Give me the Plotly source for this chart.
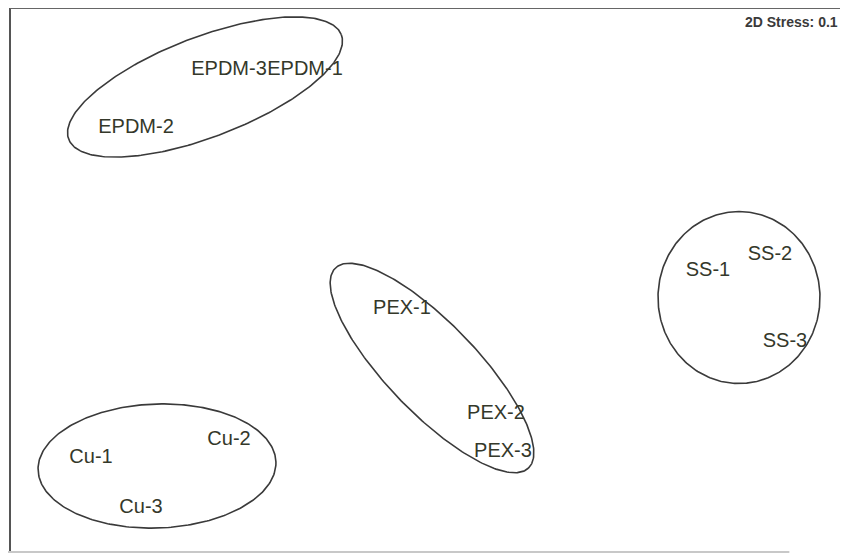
import numpy as np
import plotly.graph_objects as go

# NMDS ordination scores (sample labels)
samples = ["EPDM-1", "EPDM-2", "EPDM-3", "PEX-1", "PEX-2", "PEX-3",
           "SS-1", "SS-2", "SS-3", "Cu-1", "Cu-2", "Cu-3"]
nmds1 = [-0.625, -1.47, -1.005, -0.14, 0.33, 0.365, 1.39, 1.70, 1.775, -1.695, -1.005, -1.445]
nmds2 = [1.05, 0.76, 1.05, -0.145, -0.67, -0.86, 0.045, 0.125, -0.31, -0.89, -0.80, -1.14]

# group ellipses: centre x, centre y, semi-major, semi-minor, rotation (deg)
groups = ["EPDM", "PEX", "SS", "Cu"]
ell_cx = [-1.125, 0.01, 1.545, -1.365]
ell_cy = [0.965, -0.44, -0.0875, -0.93]
ell_a = [0.73, 0.695, 0.43, 0.595]
ell_b = [0.25, 0.225, 0.405, 0.31]
ell_angle = [21, -46, 90, 2]

stress_label = "2D Stress: 0.1"

fig = go.Figure()

t = np.linspace(0, 2 * np.pi, 300)
for g, cx, cy, a, b, ang in zip(groups, ell_cx, ell_cy, ell_a, ell_b, ell_angle):
    th = np.deg2rad(ang)
    ex = cx + a * np.cos(t) * np.cos(th) - b * np.sin(t) * np.sin(th)
    ey = cy + a * np.cos(t) * np.sin(th) + b * np.sin(t) * np.cos(th)
    fig.add_trace(go.Scatter(x=ex, y=ey, mode="lines", name=g,
                             line=dict(color="#3a3a3a", width=1.6),
                             hoverinfo="skip", showlegend=False))

fig.add_trace(go.Scatter(
    x=nmds1, y=nmds2, mode="text", text=samples,
    textposition="middle center",
    textfont=dict(family="Liberation Sans, Arial", size=20, color="#34382a"),
    showlegend=False))

fig.add_annotation(x=1, y=1, xref="paper", yref="paper", xanchor="right", yanchor="top",
                   yshift=-4, xshift=-8, text=stress_label, showarrow=False,
                   font=dict(family="Liberation Sans, Arial", size=14, color="#3a3a3a", weight="bold"))

# frame (left, top, bottom)
fig.add_shape(type="line", xref="paper", yref="paper", x0=0, x1=0, y0=0, y1=1,
              line=dict(color="#555555", width=2))
fig.add_shape(type="line", xref="paper", yref="paper", x0=0, x1=1, y0=1, y1=1,
              line=dict(color="#666666", width=2))
fig.add_shape(type="line", xref="paper", yref="paper", x0=-0.01, x1=0.93, y0=0, y1=0,
              line=dict(color="#c8c8c8", width=2))

fig.update_xaxes(range=[-2.1, 2.09], visible=False, showgrid=False, zeroline=False)
fig.update_yaxes(range=[-1.36, 1.36], visible=False, showgrid=False, zeroline=False)

fig.update_layout(width=848, height=555, margin=dict(l=2, r=8, t=0, b=11),
                  plot_bgcolor="white", paper_bgcolor="white")

fig.write_html("out.html")
